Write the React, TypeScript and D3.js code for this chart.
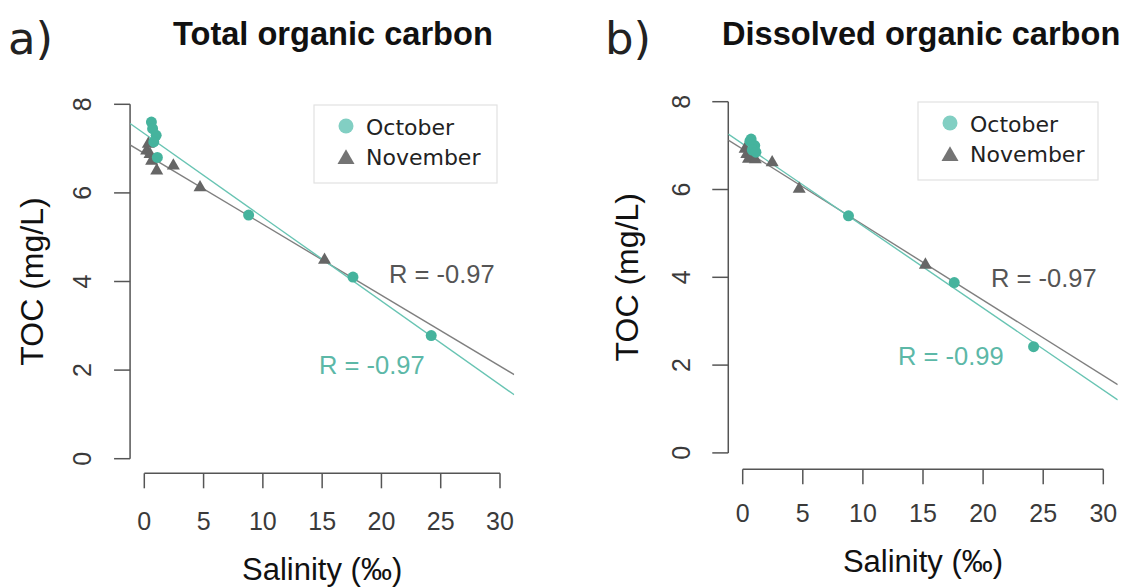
import React from "react";
import * as d3 from "d3";

// Salinity (‰) of the sampling stations
const salinityOct = [0.6, 0.7, 1.0, 0.8, 1.1, 8.8, 17.6, 24.2];
const salinityNov = [0.2, 0.34, 0.48, 0.62, 1.05, 2.45, 4.7, 15.2];

// Total organic carbon (mg/L)
const tocOct = [7.6, 7.45, 7.3, 7.15, 6.8, 5.5, 4.1, 2.78];
const tocNov = [6.97, 7.12, 6.89, 6.74, 6.52, 6.63, 6.14, 4.5];

// Dissolved organic carbon (mg/L)
const docOct = [7.1, 7.15, 7.0, 6.9, 6.85, 5.4, 3.88, 2.42];
const docNov = [6.94, 6.82, 6.71, 6.75, 6.7, 6.63, 6.03, 4.3];

// Linear fits [intercept, slope] and correlation labels
const fitTocOct = [7.34, -0.189];
const fitTocNov = [6.89, -0.16];
const fitDocOct = [7.04, -0.187];
const fitDocNov = [6.92, -0.172];
const rLabels = ["R = -0.97", "R = -0.97", "R = -0.99", "R = -0.97"];

const xTicks = [0, 5, 10, 15, 20, 25, 30];
const yTicks = [0, 2, 4, 6, 8];
const titles = ["Total organic carbon", "Dissolved organic carbon"];
const tags = ["a)", "b)"];
const legendNames = ["October", "November"];

const TEAL = "#45b39d";
const TEAL_LINE = "#68c4b3";
const TEAL_TEXT = "#5cb8a7";
const GREY = "#666666";
const GREY_LINE = "#7f7f7f";
const AXIS = "#555555";
const SANS = "Liberation Sans, Arial, sans-serif";
const DEJAVU = "DejaVu Sans, sans-serif";

type PanelCfg = {
  x0: number; x30: number; y0: number; y8: number; axisY: number;
  oct: number[]; nov: number[]; fitOct: number[]; fitNov: number[];
  rNov: string; rOct: string;
  rNovPos: [number, number]; rOctPos: [number, number];
  legend: { x: number; y: number; w: number; h: number };
  title: string; titleX: number; tag: string; tagX: number;
  tickLabelY: number; xTitleY: number; yLabX: number; yTitleX: number;
};

function Triangle({ cx, cy, s, fill }: { cx: number; cy: number; s: number; fill: string }) {
  const h = s * 0.87;
  const path = `M${cx},${cy - h * 0.6}L${cx + s / 2},${cy + h * 0.4}L${cx - s / 2},${cy + h * 0.4}Z`;
  return <path d={path} fill={fill} />;
}

function Panel({ c }: { c: PanelCfg }) {
  const x = d3.scaleLinear().domain([0, 30]).range([c.x0, c.x30]);
  const y = d3.scaleLinear().domain([0, 8]).range([c.y0, c.y8]);
  const xl = -1.2, xr = 31.2;
  const left = x(xl);
  const fitPath = (f: number[]) =>
    d3.line<number>().x((s) => x(s)).y((s) => y(f[0] + f[1] * s))([xl, xr]) || "";
  const clipId = "clip-" + c.tag.replace(")", "");
  return (
    <g>
      <defs>
        <clipPath id={clipId}>
          <rect x={left} y={y(8.32)} width={x(xr) - left} height={y(-0.32) - y(8.32)} />
        </clipPath>
      </defs>
      {/* panel tag and title */}
      <text x={c.tagX} y={54} fontFamily={DEJAVU} fontSize={45} fill="#222">{c.tag}</text>
      <text x={c.titleX} y={45} fontFamily={SANS} fontSize={32.6} fontWeight="bold" fill="#111">{c.title}</text>

      {/* y axis */}
      <line x1={left} x2={left} y1={y(8)} y2={y(0)} stroke={AXIS} strokeWidth={1.5} />
      {yTicks.map((t) => (
        <g key={t}>
          <line x1={left - 16} x2={left} y1={y(t)} y2={y(t)} stroke={AXIS} strokeWidth={1.5} />
          <text
            transform={`translate(${c.yLabX},${y(t)}) rotate(-90)`}
            textAnchor="middle" dominantBaseline="central"
            fontFamily={SANS} fontSize={25} fill="#3a3a3a"
          >{t}</text>
        </g>
      ))}
      <text
        transform={`translate(${c.yTitleX},${(y(8.32) + y(-0.32)) / 2}) rotate(-90)`}
        textAnchor="middle" dominantBaseline="central"
        fontFamily={SANS} fontSize={32} fill="#111"
      >TOC (mg/L)</text>

      {/* x axis */}
      <line x1={x(0)} x2={x(30)} y1={c.axisY} y2={c.axisY} stroke={AXIS} strokeWidth={1.5} />
      {xTicks.map((t) => (
        <g key={t}>
          <line x1={x(t)} x2={x(t)} y1={c.axisY} y2={c.axisY + 15} stroke={AXIS} strokeWidth={1.5} />
          <text x={x(t)} y={c.tickLabelY} textAnchor="middle" fontFamily={SANS} fontSize={25} fill="#3a3a3a">{t}</text>
        </g>
      ))}
      <text x={(x(0) + x(30)) / 2} y={c.xTitleY} textAnchor="middle" fontFamily={SANS} fontSize={31} fill="#111">Salinity (‰)</text>

      {/* regression lines */}
      <g clipPath={`url(#${clipId})`}>
        <path d={fitPath(c.fitNov)} stroke={GREY_LINE} strokeWidth={1.4} fill="none" />
        <path d={fitPath(c.fitOct)} stroke={TEAL_LINE} strokeWidth={1.4} fill="none" />
      </g>

      {/* points */}
      {salinityNov.map((s, i) => (
        <Triangle key={"n" + i} cx={x(s)} cy={y(c.nov[i])} s={13} fill={GREY} />
      ))}
      {salinityOct.map((s, i) => (
        <circle key={"o" + i} cx={x(s)} cy={y(c.oct[i])} r={5.5} fill={TEAL} />
      ))}

      {/* correlation labels */}
      <text x={c.rNovPos[0]} y={c.rNovPos[1]} fontFamily={SANS} fontSize={25.5} fill="#555">{c.rNov}</text>
      <text x={c.rOctPos[0]} y={c.rOctPos[1]} fontFamily={SANS} fontSize={25.5} fill={TEAL_TEXT}>{c.rOct}</text>

      {/* legend */}
      <rect x={c.legend.x} y={c.legend.y} width={c.legend.w} height={c.legend.h} fill="#fff" stroke="#e2e2e2" strokeWidth={1.2} />
      <circle cx={c.legend.x + 32} cy={c.legend.y + 21} r={7.5} fill="#82cfc3" />
      <Triangle cx={c.legend.x + 32} cy={c.legend.y + 53} s={17} fill="#747474" />
      <text x={c.legend.x + 52} y={c.legend.y + 30} fontFamily={DEJAVU} fontSize={22} fill="#222">{legendNames[0]}</text>
      <text x={c.legend.x + 52} y={c.legend.y + 60} fontFamily={DEJAVU} fontSize={22} fill="#222">{legendNames[1]}</text>
    </g>
  );
}

export default function App() {
  const panels: PanelCfg[] = [
    {
      x0: 144.3, x30: 500, y0: 458.7, y8: 104.3, axisY: 473.3,
      oct: tocOct, nov: tocNov, fitOct: fitTocOct, fitNov: fitTocNov,
      rNov: rLabels[0], rOct: rLabels[1],
      rNovPos: [389, 283], rOctPos: [319, 374],
      legend: { x: 314, y: 105, w: 183, h: 78 },
      title: titles[0], titleX: 173, tag: tags[0], tagX: 8,
      tickLabelY: 530, xTitleY: 580, yLabX: 82, yTitleX: 32,
    },
    {
      x0: 742.7, x30: 1103.3, y0: 452.9, y8: 101.7, axisY: 469.3,
      oct: docOct, nov: docNov, fitOct: fitDocOct, fitNov: fitDocNov,
      rNov: rLabels[3], rOct: rLabels[2],
      rNovPos: [991, 287], rOctPos: [898, 365],
      legend: { x: 918, y: 102, w: 180, h: 78 },
      title: titles[1], titleX: 722, tag: tags[1], tagX: 605,
      tickLabelY: 522, xTitleY: 572, yLabX: 681, yTitleX: 627,
    },
  ];
  return (
    <svg
      width={1128}
      height={588}
      style={{ position: "absolute", left: 0, top: 0, display: "block", background: "#fff" }}
    >
      <rect width={1128} height={588} fill="#fff" />
      {panels.map((p) => (
        <Panel key={p.tag} c={p} />
      ))}
    </svg>
  );
}
